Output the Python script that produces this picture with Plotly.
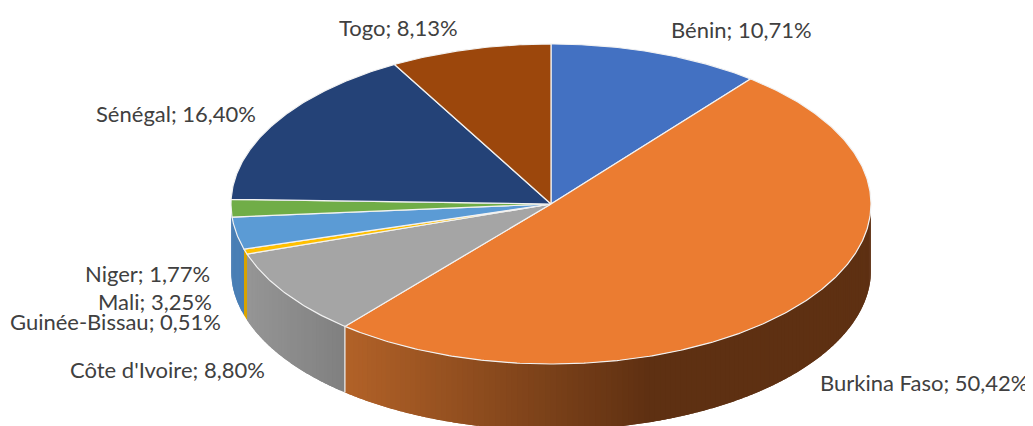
import math
import plotly.graph_objects as go

countries = ["Bénin", "Burkina Faso", "Côte d'Ivoire", "Guinée-Bissau", "Mali", "Niger", "Sénégal", "Togo"]
shares = [10.71, 50.42, 8.80, 0.51, 3.25, 1.77, 16.40, 8.13]
share_text = ["10,71%", "50,42%", "8,80%", "0,51%", "3,25%", "1,77%", "16,40%", "8,13%"]
top_colors = ["#4371C2", "#EB7C31", "#A5A5A5", "#FFC000", "#5B9BD5", "#70AD47", "#244277", "#9C470C"]
wall_left = [(59, 95, 159), (178, 98, 40), (150, 150, 150), (217, 163, 0), (74, 127, 181), (74, 127, 181), (29, 52, 92), (122, 56, 11)]
wall_right = [(59, 95, 159), (94, 48, 18), (128, 128, 128), (217, 163, 0), (74, 127, 181), (74, 127, 181), (29, 52, 92), (122, 56, 11)]
label_x = [741, 924, 167, 115, 155, 147, 176, 398]
label_y = [29, 382.5, 369.5, 321.5, 301.5, 273.5, 113, 27]

CX, CY, RX, RY, DEPTH = 551, 204, 320, 160, 66
GRAD_END = 650  # x (px) where walls reach their darkest tone
PAGE_OFFSET = 8  # default page margin around the plot

total = sum(shares)


def pt(deg):
    a = math.radians(deg)
    return CX + RX * math.sin(a), CY - RY * math.cos(a)


def wall_color(i, x):
    l, r = wall_left[i], wall_right[i]
    if i == 1:
        t = min(1, max(0, (x - 345) / (GRAD_END - 345)))
    else:
        t = min(1, max(0, (x - 245) / 100))
    return "rgb(%d,%d,%d)" % tuple(l[k] + (r[k] - l[k]) * t for k in range(3))


fig = go.Figure()

starts = []
acc = 0.0
for v in shares:
    starts.append(acc / total * 360)
    acc += v
ends = starts[1:] + [360.0]

# walls (only the front half of the cylinder is visible); each strip overlaps the next
for i, (s, e) in enumerate(zip(starts, ends)):
    lo, hi = max(s, 90), min(e, 270)
    if hi <= lo:
        continue
    n = max(1, int((hi - lo) / 1.0))
    step = (hi - lo) / n
    for k in range(n):
        a0 = lo + step * k
        a1 = min(hi, a0 + 2 * step)
        m = 6
        angs = [a0 + (a1 - a0) * j / m for j in range(m + 1)]
        tx, ty = zip(*[pt(a) for a in angs])
        xs = list(tx) + list(tx[::-1]) + [tx[0]]
        ys = list(ty) + [y + DEPTH for y in ty[::-1]] + [ty[0]]
        c = wall_color(i, (tx[0] + tx[-1]) / 2)
        fig.add_trace(go.Scatter(
            x=xs, y=ys, mode="none", fill="toself", fillcolor=c,
            hoverinfo="skip", showlegend=False))

# wall separator between Burkina Faso and Côte d'Ivoire
x0, y0 = pt(ends[1])
fig.add_trace(go.Scatter(
    x=[x0, x0], y=[y0, y0 + DEPTH], mode="lines",
    line=dict(color="#f2f2f2", width=1.2), hoverinfo="skip", showlegend=False))

# top face
for i, (s, e) in enumerate(zip(starts, ends)):
    n = max(2, int((e - s) / 0.5))
    xs, ys = [CX], [CY]
    for k in range(n + 1):
        x, y = pt(s + (e - s) * k / n)
        xs.append(x)
        ys.append(y)
    xs.append(CX)
    ys.append(CY)
    fig.add_trace(go.Scatter(
        x=xs, y=ys, mode="lines", fill="toself", fillcolor=top_colors[i],
        line=dict(color="#f2f2f2", width=1.2), name=countries[i],
        hoverinfo="name", showlegend=False))

for name, txt, lx, ly in zip(countries, share_text, label_x, label_y):
    fig.add_annotation(x=lx, y=ly, xref="x", yref="y", text=f"{name}; {txt}",
                       showarrow=False, font=dict(family="Lato", size=22, color="#404040"))

fig.update_layout(
    width=1033 - PAGE_OFFSET, height=426 - PAGE_OFFSET, margin=dict(l=0, r=0, t=0, b=0),
    paper_bgcolor="white", plot_bgcolor="white", showlegend=False,
    xaxis=dict(range=[PAGE_OFFSET, 1033], visible=False, fixedrange=True),
    yaxis=dict(range=[426, PAGE_OFFSET], visible=False, fixedrange=True),
)
fig.write_html("out.html", config=dict(displayModeBar=False))
